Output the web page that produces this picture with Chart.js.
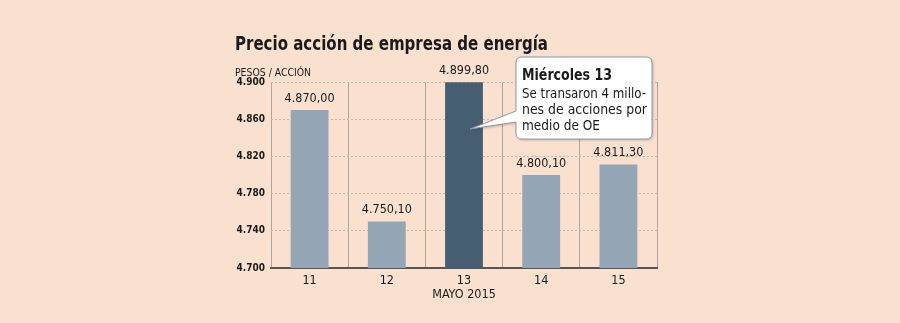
<!DOCTYPE html>
<html>
<head>
<meta charset="utf-8">
<script src="https://cdn.jsdelivr.net/npm/chart.js@4"></script>
<style>
  html, body { margin: 0; padding: 0; background: #fae0cf; }
  #wrap { width: 900px; height: 323px; }
</style>
</head>
<body>
<div id="wrap"><canvas id="chart" width="900" height="323"></canvas></div>
<script>
const dias = ['11', '12', '13', '14', '15'];
const precios = [4870.0, 4750.1, 4899.8, 4800.1, 4811.3];
const destacado = 2; // miércoles 13

const FONT = '"DejaVu Sans Condensed", "DejaVu Sans", sans-serif';

const fmtMiles = (v) => String(v).replace(/\B(?=(\d{3})+(?!\d))/g, '.');
const fmtPrecio = (v) => {
  const [ent, dec] = v.toFixed(2).split('.');
  return fmtMiles(ent) + ',' + dec;
};

// texto estrechado en horizontal para parecerse a Tahoma
function textoAncho(ctx, txt, x, y, ancho) {
  const w = ctx.measureText(txt).width;
  ctx.save();
  ctx.translate(x, y);
  ctx.scale(ancho / w, 1);
  ctx.fillText(txt, 0, 0);
  ctx.restore();
}

const textos = {
  id: 'textos',
  afterDatasetsDraw(chart) {
    const { ctx, chartArea: { left, right } } = chart;
    const meta = chart.getDatasetMeta(0);
    ctx.save();

    // titulo
    ctx.fillStyle = '#1a1a1a';
    ctx.textBaseline = 'alphabetic';
    ctx.textAlign = 'left';
    ctx.font = 'bold 20px ' + FONT;
    textoAncho(ctx, 'Precio acción de empresa de energía', 235, 50, 313);

    ctx.font = '10px ' + FONT;
    textoAncho(ctx, 'PESOS / ACCIÓN', 235, 76, 76);

    // etiquetas de valores
    ctx.font = '12.5px ' + FONT;
    ctx.textAlign = 'center';
    ctx.textBaseline = 'bottom';
    meta.data.forEach((bar, i) => {
      ctx.fillText(fmtPrecio(precios[i]), bar.x, bar.y - 5);
    });

    // titulo eje x
    ctx.font = '12.5px ' + FONT;
    ctx.textBaseline = 'alphabetic';
    ctx.fillText('MAYO 2015', (left + right) / 2, 298);

    // globo
    const bx = 516, by = 57, bw = 136, bh = 82, r = 6;
    const punta = { x: meta.data[destacado].x + 6, y: 129 };
    ctx.shadowColor = 'rgba(0,0,0,0.25)';
    ctx.shadowBlur = 3;
    ctx.shadowOffsetX = 1;
    ctx.shadowOffsetY = 1;
    ctx.beginPath();
    ctx.moveTo(bx + r, by);
    ctx.lineTo(bx + bw - r, by);
    ctx.quadraticCurveTo(bx + bw, by, bx + bw, by + r);
    ctx.lineTo(bx + bw, by + bh - r);
    ctx.quadraticCurveTo(bx + bw, by + bh, bx + bw - r, by + bh);
    ctx.lineTo(bx + r, by + bh);
    ctx.quadraticCurveTo(bx, by + bh, bx, by + bh - r);
    ctx.lineTo(bx, 122);
    ctx.lineTo(punta.x, punta.y);
    ctx.lineTo(bx, 111);
    ctx.lineTo(bx, by + r);
    ctx.quadraticCurveTo(bx, by, bx + r, by);
    ctx.closePath();
    ctx.fillStyle = '#ffffff';
    ctx.fill();
    ctx.shadowColor = 'transparent';
    ctx.strokeStyle = '#8a9aab';
    ctx.lineWidth = 1;
    ctx.stroke();

    ctx.fillStyle = '#1a1a1a';
    ctx.textAlign = 'left';
    ctx.font = 'bold 16px ' + FONT;
    textoAncho(ctx, 'Miércoles 13', 522, 80, 90);
    ctx.font = '14px ' + FONT;
    [['Se transaron 4 millo-', 124], ['nes de acciones por', 125], ['medio de OE', 78]].forEach(([l, w], i) => {
      textoAncho(ctx, l, 522, 98 + i * 16, w);
    });

    ctx.restore();
  },
};

const config = {
  type: 'bar',
  data: {
    labels: dias,
    datasets: [
      {
        data: precios,
        backgroundColor: precios.map((v, i) => (i === destacado ? '#465e72' : '#94a5b5')),
        borderWidth: 0,
        categoryPercentage: 1,
        barPercentage: 0.49,
      },
    ],
  },
  options: {
    responsive: false,
    animation: false,
    layout: { padding: { left: 0, right: 243, top: 82, bottom: 0 } },
    scales: {
      x: {
        afterFit: (scale) => { scale.height = 55; },
        grid: { color: '#b0a59c', lineWidth: 1, drawTicks: false },
        border: { display: true, color: '#555555', width: 2 },
        ticks: {
          color: '#1a1a1a',
          font: { family: FONT, size: 12.5 },
          padding: 5,
        },
      },
      y: {
        min: 4700,
        max: 4900,
        afterFit: (scale) => { scale.width = 271; },
        ticks: {
          stepSize: 40,
          color: '#1a1a1a',
          font: { family: FONT, size: 10, weight: 'bold' },
          padding: 6,
          callback: (v) => fmtMiles(v),
        },
        grid: { color: '#c9b6a6', drawTicks: false },
        border: { display: false, dash: [2, 2] },
      },
    },
    plugins: {
      legend: { display: false },
      tooltip: { enabled: false },
    },
  },
  plugins: [textos],
};

new Chart(document.getElementById('chart'), config);
</script>
</body>
</html>
